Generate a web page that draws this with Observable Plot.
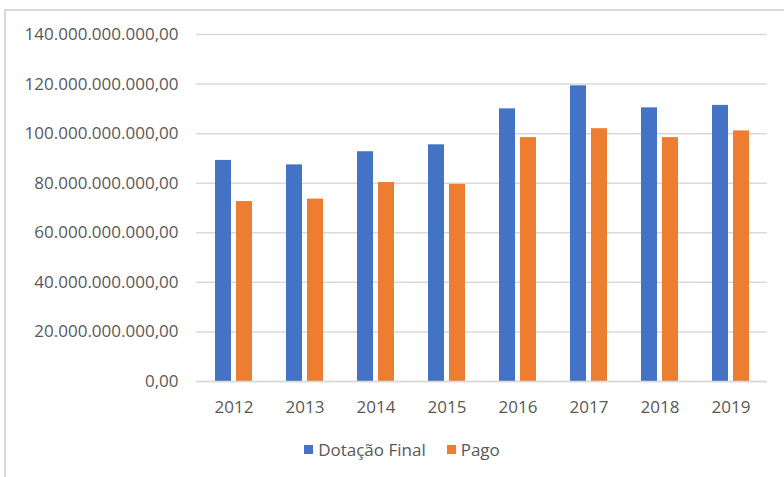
<!DOCTYPE html>
<html>
<head>
<meta charset="utf-8">
<script src="https://cdn.jsdelivr.net/npm/d3@7"></script>
<script src="https://cdn.jsdelivr.net/npm/@observablehq/plot@0.6"></script>
<style>
  body { margin: 0; background: #fff; font-family: "Open Sans", sans-serif; }
  #wrap { position: relative; width: 784px; height: 477px; background: #fff; overflow: hidden; }
  #frame { position: absolute; left: 4px; top: 9px; right: -4px; bottom: -4px; border-left: 2px solid #d9d9d9; border-top: 2px solid #d9d9d9; }
  #chart { position: absolute; left: 0; top: 0; }
  #legend { position: absolute; left: 0; top: 438px; width: 784px; display: flex; justify-content: center; gap: 21px; font-size: 17px; color: #595959; padding-left: 20px; box-sizing: border-box; }
  .item { display: flex; align-items: center; gap: 5px; }
  .sw { width: 9px; height: 9px; display: inline-block; }
</style>
</head>
<body>
<div id="wrap">
  <div id="frame"></div>
  <div id="chart"></div>
  <div id="legend"></div>
</div>
<script>
const years = ["2012", "2013", "2014", "2015", "2016", "2017", "2018", "2019"];
const dotacaoFinal = [89.2e9, 87.4e9, 92.7e9, 95.5e9, 110.0e9, 119.3e9, 110.4e9, 111.4e9];
const pago = [72.6e9, 73.6e9, 80.3e9, 79.5e9, 98.4e9, 102.0e9, 98.4e9, 101.1e9];
const seriesNames = ["Dotação Final", "Pago"];
const seriesColors = ["#4472C4", "#ED7D31"];
const yTicks = [0, 20e9, 40e9, 60e9, 80e9, 100e9, 120e9, 140e9];

const rows = years.flatMap((y, i) => [
  {year: y, series: seriesNames[0], value: dotacaoFinal[i]},
  {year: y, series: seriesNames[1], value: pago[i]}
]);

const locale = d3.formatLocale({decimal: ",", thousands: ".", grouping: [3], currency: ["R$", ""]});
const fmt = locale.format(",.2f");

const plot = Plot.plot({
  width: 784,
  height: 430,
  marginLeft: 196,
  marginRight: 17,
  marginTop: 34,
  marginBottom: 49,
  style: {fontFamily: "Open Sans, sans-serif", fontSize: "17px", color: "#595959", background: "transparent"},
  x: {domain: years, paddingInner: 0.482, paddingOuter: 0.241, label: null},
  y: {domain: [0, 140e9], label: null},
  color: {domain: seriesNames, range: seriesColors},
  marks: [
    Plot.gridY(yTicks, {stroke: "#d9d9d9", strokeOpacity: 1, strokeWidth: 1.5}),
    Plot.barY(rows.filter(d => d.series === seriesNames[0]), {x: "year", y: "value", fill: "series", insetRight: 21}),
    Plot.barY(rows.filter(d => d.series === seriesNames[1]), {x: "year", y: "value", fill: "series", insetLeft: 21}),
    Plot.ruleY([0], {stroke: "#d9d9d9", strokeWidth: 1.5}),
    Plot.axisY(yTicks, {tickSize: 0, tickPadding: 18, tickFormat: fmt, fill: "#595959", label: null}),
    Plot.axisX({tickSize: 0, tickPadding: 19, fill: "#595959", label: null})
  ]
});
document.getElementById("chart").appendChild(plot);

const legend = document.getElementById("legend");
seriesNames.forEach((n, i) => {
  const it = document.createElement("div");
  it.className = "item";
  const sw = document.createElement("span");
  sw.className = "sw";
  sw.style.background = seriesColors[i];
  const tx = document.createElement("span");
  tx.textContent = n;
  it.appendChild(sw);
  it.appendChild(tx);
  legend.appendChild(it);
});
</script>
</body>
</html>
